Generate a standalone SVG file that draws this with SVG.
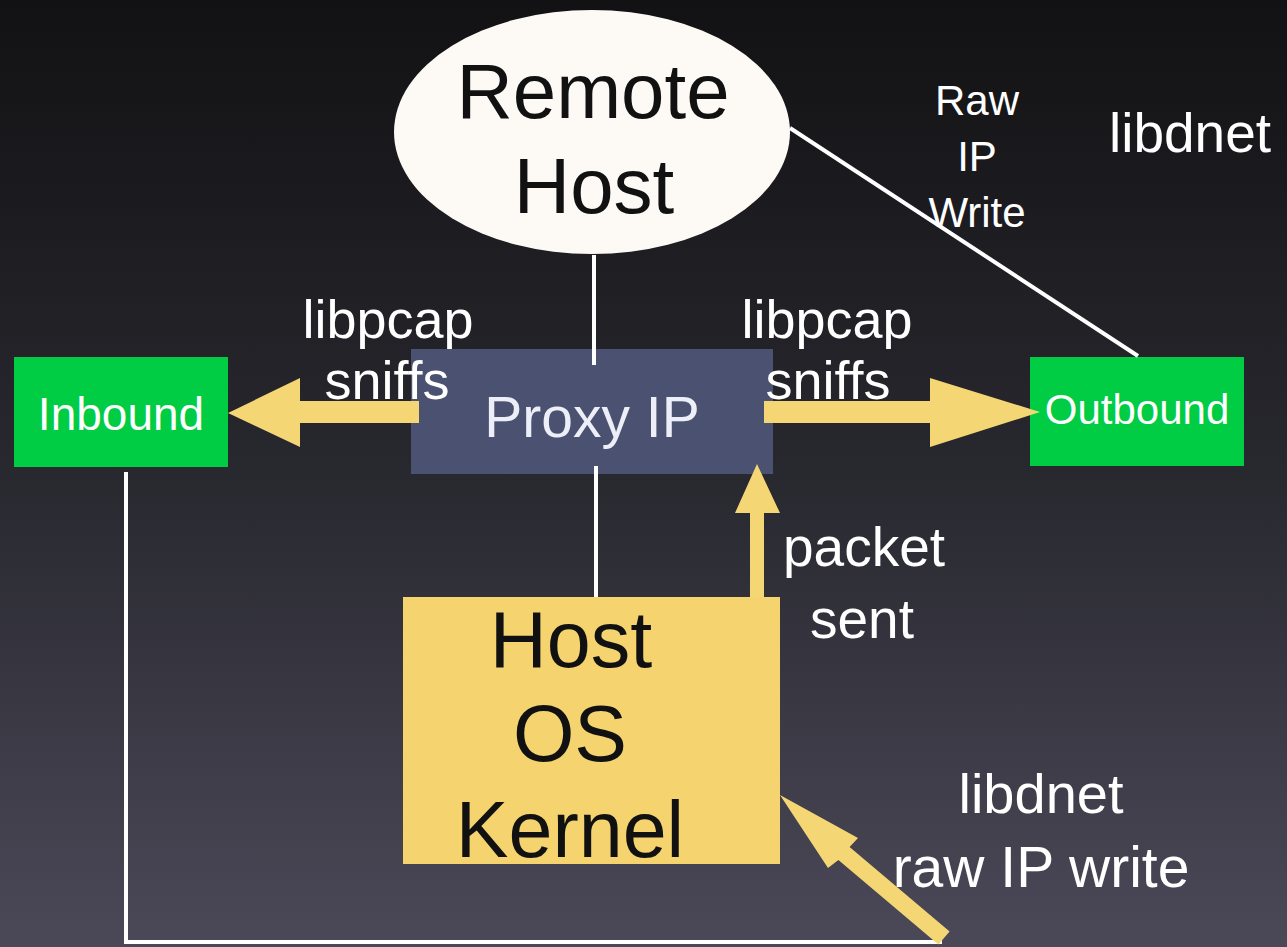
<svg xmlns="http://www.w3.org/2000/svg" width="1287" height="947" viewBox="0 0 1287 947">
<defs>
<linearGradient id="bg" x1="0" y1="0" x2="0" y2="1">
<stop offset="0" stop-color="#121214"/>
<stop offset="0.5" stop-color="#28282f"/>
<stop offset="1" stop-color="#4b4958"/>
</linearGradient>
<style>
text{font-family:"Liberation Sans",Arial,sans-serif;text-anchor:middle}
.w{fill:#ffffff}
.k{fill:#111111}
.ln{stroke:#ffffff;stroke-width:4;fill:none}
.ar{fill:#f5d674}
.grn{fill:#00cc44}
</style>
</defs>
<rect width="1287" height="947" fill="url(#bg)"/>

<g id="remote-host">
<ellipse cx="592" cy="132" rx="198" ry="122" fill="#fdf9f5"/>
<text class="k" x="593" y="118" font-size="78">Remote</text>
<text class="k" x="594" y="213" font-size="78">Host</text>
</g>

<g id="inbound">
<rect class="grn" x="14" y="357" width="214" height="110"/>
<text class="w" x="121" y="430" font-size="46">Inbound</text>
</g>

<g id="outbound">
<rect class="grn" x="1030" y="357" width="214" height="109"/>
<text class="w" x="1137" y="424" font-size="42">Outbound</text>
</g>

<g id="proxy-ip">
<rect x="411" y="349" width="362" height="125" fill="#4b5170"/>
<text x="592" y="437" font-size="57" fill="#eceef8">Proxy IP</text>
</g>

<g id="host-os-kernel">
<rect x="403" y="597" width="377" height="267" fill="#f5d470"/>
<text class="k" x="571" y="667" font-size="79">Host</text>
<text class="k" x="570" y="761" font-size="79">OS</text>
<text class="k" x="570" y="857" font-size="79">Kernel</text>
</g>

<g id="connectors">
<line class="ln" x1="594" y1="255" x2="594" y2="365"/>
<line class="ln" x1="596" y1="466" x2="596" y2="597"/>
<line class="ln" x1="790" y1="128" x2="1138" y2="356"/>
<polyline class="ln" points="126,472 126,942 942,942"/>
<polygon class="ar" points="228,413 300,378 300,401 419,401 419,423 300,423 300,447"/>
<polygon class="ar" points="1040,412 930,378 930,401 764,401 764,423 930,423 930,447"/>
<polygon class="ar" points="757,464 780,513 764,513 764,597 750,597 750,513 735,513"/>
<polygon class="ar" points="780,795 858,838 849.6,847.1 949.6,931.6 938.4,944.4 838.4,859.9 828,868"/>
</g>

<g id="labels">
<text class="w" x="388" y="338" font-size="54">libpcap</text>
<text class="w" x="387" y="399" font-size="54">sniffs</text>
<text class="w" x="827" y="338" font-size="54">libpcap</text>
<text class="w" x="828" y="399" font-size="54">sniffs</text>
<text class="w" x="864" y="566" font-size="55">packet</text>
<text class="w" x="862" y="638" font-size="55">sent</text>
<text class="w" x="1041" y="813" font-size="56">libdnet</text>
<text class="w" x="1041" y="887" font-size="57">raw IP write</text>
<text class="w" x="1190" y="152" font-size="55">libdnet</text>
<text class="w" x="977" y="115" font-size="42">Raw</text>
<text class="w" x="977" y="171" font-size="42">IP</text>
<text class="w" x="977" y="227" font-size="42">Write</text>
</g>
</svg>
